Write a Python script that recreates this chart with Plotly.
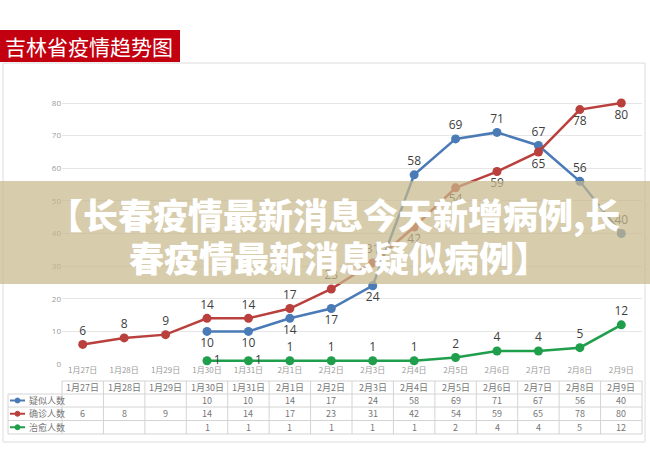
import plotly.graph_objects as go

# ---------------- data ----------------
dates = ["1月27日", "1月28日", "1月29日", "1月30日", "1月31日", "2月1日", "2月2日",
         "2月3日", "2月4日", "2月5日", "2月6日", "2月7日", "2月8日", "2月9日"]
suspected = [None, None, None, 10, 10, 14, 17, 24, 58, 69, 71, 67, 56, 40]
confirmed = [6, 8, 9, 14, 14, 17, 23, 31, 42, 54, 59, 65, 78, 80]
cured = [None, None, None, 1, 1, 1, 1, 1, 1, 2, 4, 4, 5, 12]
series_names = ["疑似人数", "确诊人数", "治愈人数"]
y_ticks = [0, 10, 20, 30, 40, 50, 60, 70, 80]
chart_title = "吉林省疫情趋势图"
banner_line1 = "【长春疫情最新消息今天新增病例,长"
banner_line2 = "春疫情最新消息疑似病例】"

# ---------------- styles ----------------
W, H = 650, 466
ML, MR, MT, MB = 62, 8, 90, 102
L, R, T, B = ML, W - MR, MT, H - MB
colors = ["#4a7bb7", "#b9403d", "#1f9e4c"]
label_font = dict(family="Open Sans, Noto Sans, sans-serif", size=12, color="#404040")


def px_x(p):
    return (p - L) / (R - L)


def px_y(p):
    return (B - p) / (B - T)


n = len(dates)
x_idx = list(range(n))

blue_pos = ["bottom center" if i < 8 else "top center" for i in range(n)]
red_pos = ["top center" if i < 8 else "bottom center" for i in range(n)]
green_pos = ["middle right" if i in (3, 4) else "top center" for i in range(n)]

fig = go.Figure()
for vals, name, col, pos in [
    (suspected, series_names[0], colors[0], blue_pos),
    (confirmed, series_names[1], colors[1], red_pos),
    (cured, series_names[2], colors[2], green_pos),
]:
    fig.add_trace(go.Scatter(
        x=x_idx, y=vals, name=name, mode="lines+markers+text",
        line=dict(color=col, width=2.5),
        marker=dict(color=col, size=9),
        text=[("" if v is None else str(v)) for v in vals],
        textposition=pos, textfont=label_font,
        cliponaxis=False, showlegend=False, connectgaps=False,
    ))

shapes = []
annotations = []

# outer frame
shapes.append(dict(type="rect", xref="paper", yref="paper",
                   x0=px_x(3), x1=px_x(645), y0=px_y(442), y1=px_y(63),
                   line=dict(color="#dcdcdc", width=1), fillcolor="rgba(0,0,0,0)", layer="below"))

# title box
shapes.append(dict(type="rect", xref="paper", yref="paper",
                   x0=px_x(0), x1=px_x(180), y0=px_y(62), y1=px_y(30),
                   line=dict(width=0), fillcolor="#c3000f", layer="above"))
annotations.append(dict(text=chart_title, xref="paper", yref="paper",
                        x=px_x(89), y=px_y(46), xanchor="center", yanchor="middle",
                        showarrow=False,
                        font=dict(family="Noto Sans CJK SC", size=21, color="white")))

# ---------------- data table ----------------
col_w = (R - L) / n
row_edges = [381, 394, 407, 420.5, 434]
tab_left = 8
tab_right = R
line_col = "#d4d4d4"
# horizontal lines
for k, yy in enumerate(row_edges):
    x0 = L if k == 0 else tab_left
    shapes.append(dict(type="line", xref="paper", yref="paper",
                       x0=px_x(x0), x1=px_x(tab_right), y0=px_y(yy), y1=px_y(yy),
                       line=dict(color=line_col, width=1)))
# vertical lines
for i in range(n + 1):
    xx = L + i * col_w
    shapes.append(dict(type="line", xref="paper", yref="paper",
                       x0=px_x(xx), x1=px_x(xx), y0=px_y(row_edges[0]), y1=px_y(row_edges[-1]),
                       line=dict(color=line_col, width=1)))
shapes.append(dict(type="line", xref="paper", yref="paper",
                   x0=px_x(tab_left), x1=px_x(tab_left), y0=px_y(row_edges[1]), y1=px_y(row_edges[-1]),
                   line=dict(color=line_col, width=1)))

cell_font = dict(family="Noto Sans CJK SC", size=9, color="#777777")
# header row
hy = (row_edges[0] + row_edges[1]) / 2
for i, d in enumerate(dates):
    annotations.append(dict(text=d, xref="x", yref="paper", x=i, y=px_y(hy),
                            xanchor="center", yanchor="middle", showarrow=False, font=cell_font))
# value rows
for r, (vals, name, col) in enumerate(zip([suspected, confirmed, cured], series_names, colors)):
    cy = (row_edges[r + 1] + row_edges[r + 2]) / 2
    for i, v in enumerate(vals):
        if v is None:
            continue
        annotations.append(dict(text=str(v), xref="x", yref="paper", x=i, y=px_y(cy),
                                xanchor="center", yanchor="middle", showarrow=False, font=cell_font))
    # legend key
    shapes.append(dict(type="line", xref="paper", yref="paper",
                       x0=px_x(10), x1=px_x(25), y0=px_y(cy), y1=px_y(cy),
                       line=dict(color=col, width=2)))
    shapes.append(dict(type="circle", xref="paper", yref="paper",
                       x0=px_x(15), x1=px_x(20), y0=px_y(cy + 2.5), y1=px_y(cy - 2.5),
                       line=dict(color=col, width=1), fillcolor=col))
    annotations.append(dict(text=name, xref="paper", yref="paper", x=px_x(27), y=px_y(cy),
                            xanchor="left", yanchor="middle", showarrow=False, font=cell_font))

# ---------------- banner overlay ----------------
shapes.append(dict(type="rect", xref="paper", yref="paper",
                   x0=px_x(0), x1=px_x(W), y0=px_y(284), y1=px_y(181),
                   line=dict(width=0), fillcolor="rgba(200,185,140,0.72)", layer="above"))
banner_font = dict(family="Noto Sans CJK SC", size=35, color="white", weight=900)
annotations.append(dict(text=banner_line1, xref="paper", yref="paper",
                        x=px_x(334), y=px_y(213), xanchor="center", yanchor="middle",
                        showarrow=False, font=banner_font))
annotations.append(dict(text=banner_line2, xref="paper", yref="paper",
                        x=px_x(127), y=px_y(256), xanchor="left", yanchor="middle",
                        showarrow=False, font=banner_font))

fig.update_layout(
    width=W, height=H,
    margin=dict(l=ML, r=MR, t=MT, b=MB, pad=0),
    paper_bgcolor="white", plot_bgcolor="white",
    shapes=shapes, annotations=annotations,
    xaxis=dict(range=[-0.5, n - 0.5], tickmode="array", tickvals=x_idx, ticktext=dates,
               showgrid=False, zeroline=False, showline=False, ticks="",
               tickfont=dict(family="Noto Sans CJK SC", size=8, color="#9a9a9a"), fixedrange=True),
    yaxis=dict(range=[0, 84], tickvals=y_ticks, showgrid=True, gridcolor="#e6e6e6", gridwidth=1,
               zeroline=False, showline=False, ticks="",
               tickfont=dict(family="Open Sans, sans-serif", size=8, color="#9a9a9a"), fixedrange=True),
)

fig.write_html("out.html")
